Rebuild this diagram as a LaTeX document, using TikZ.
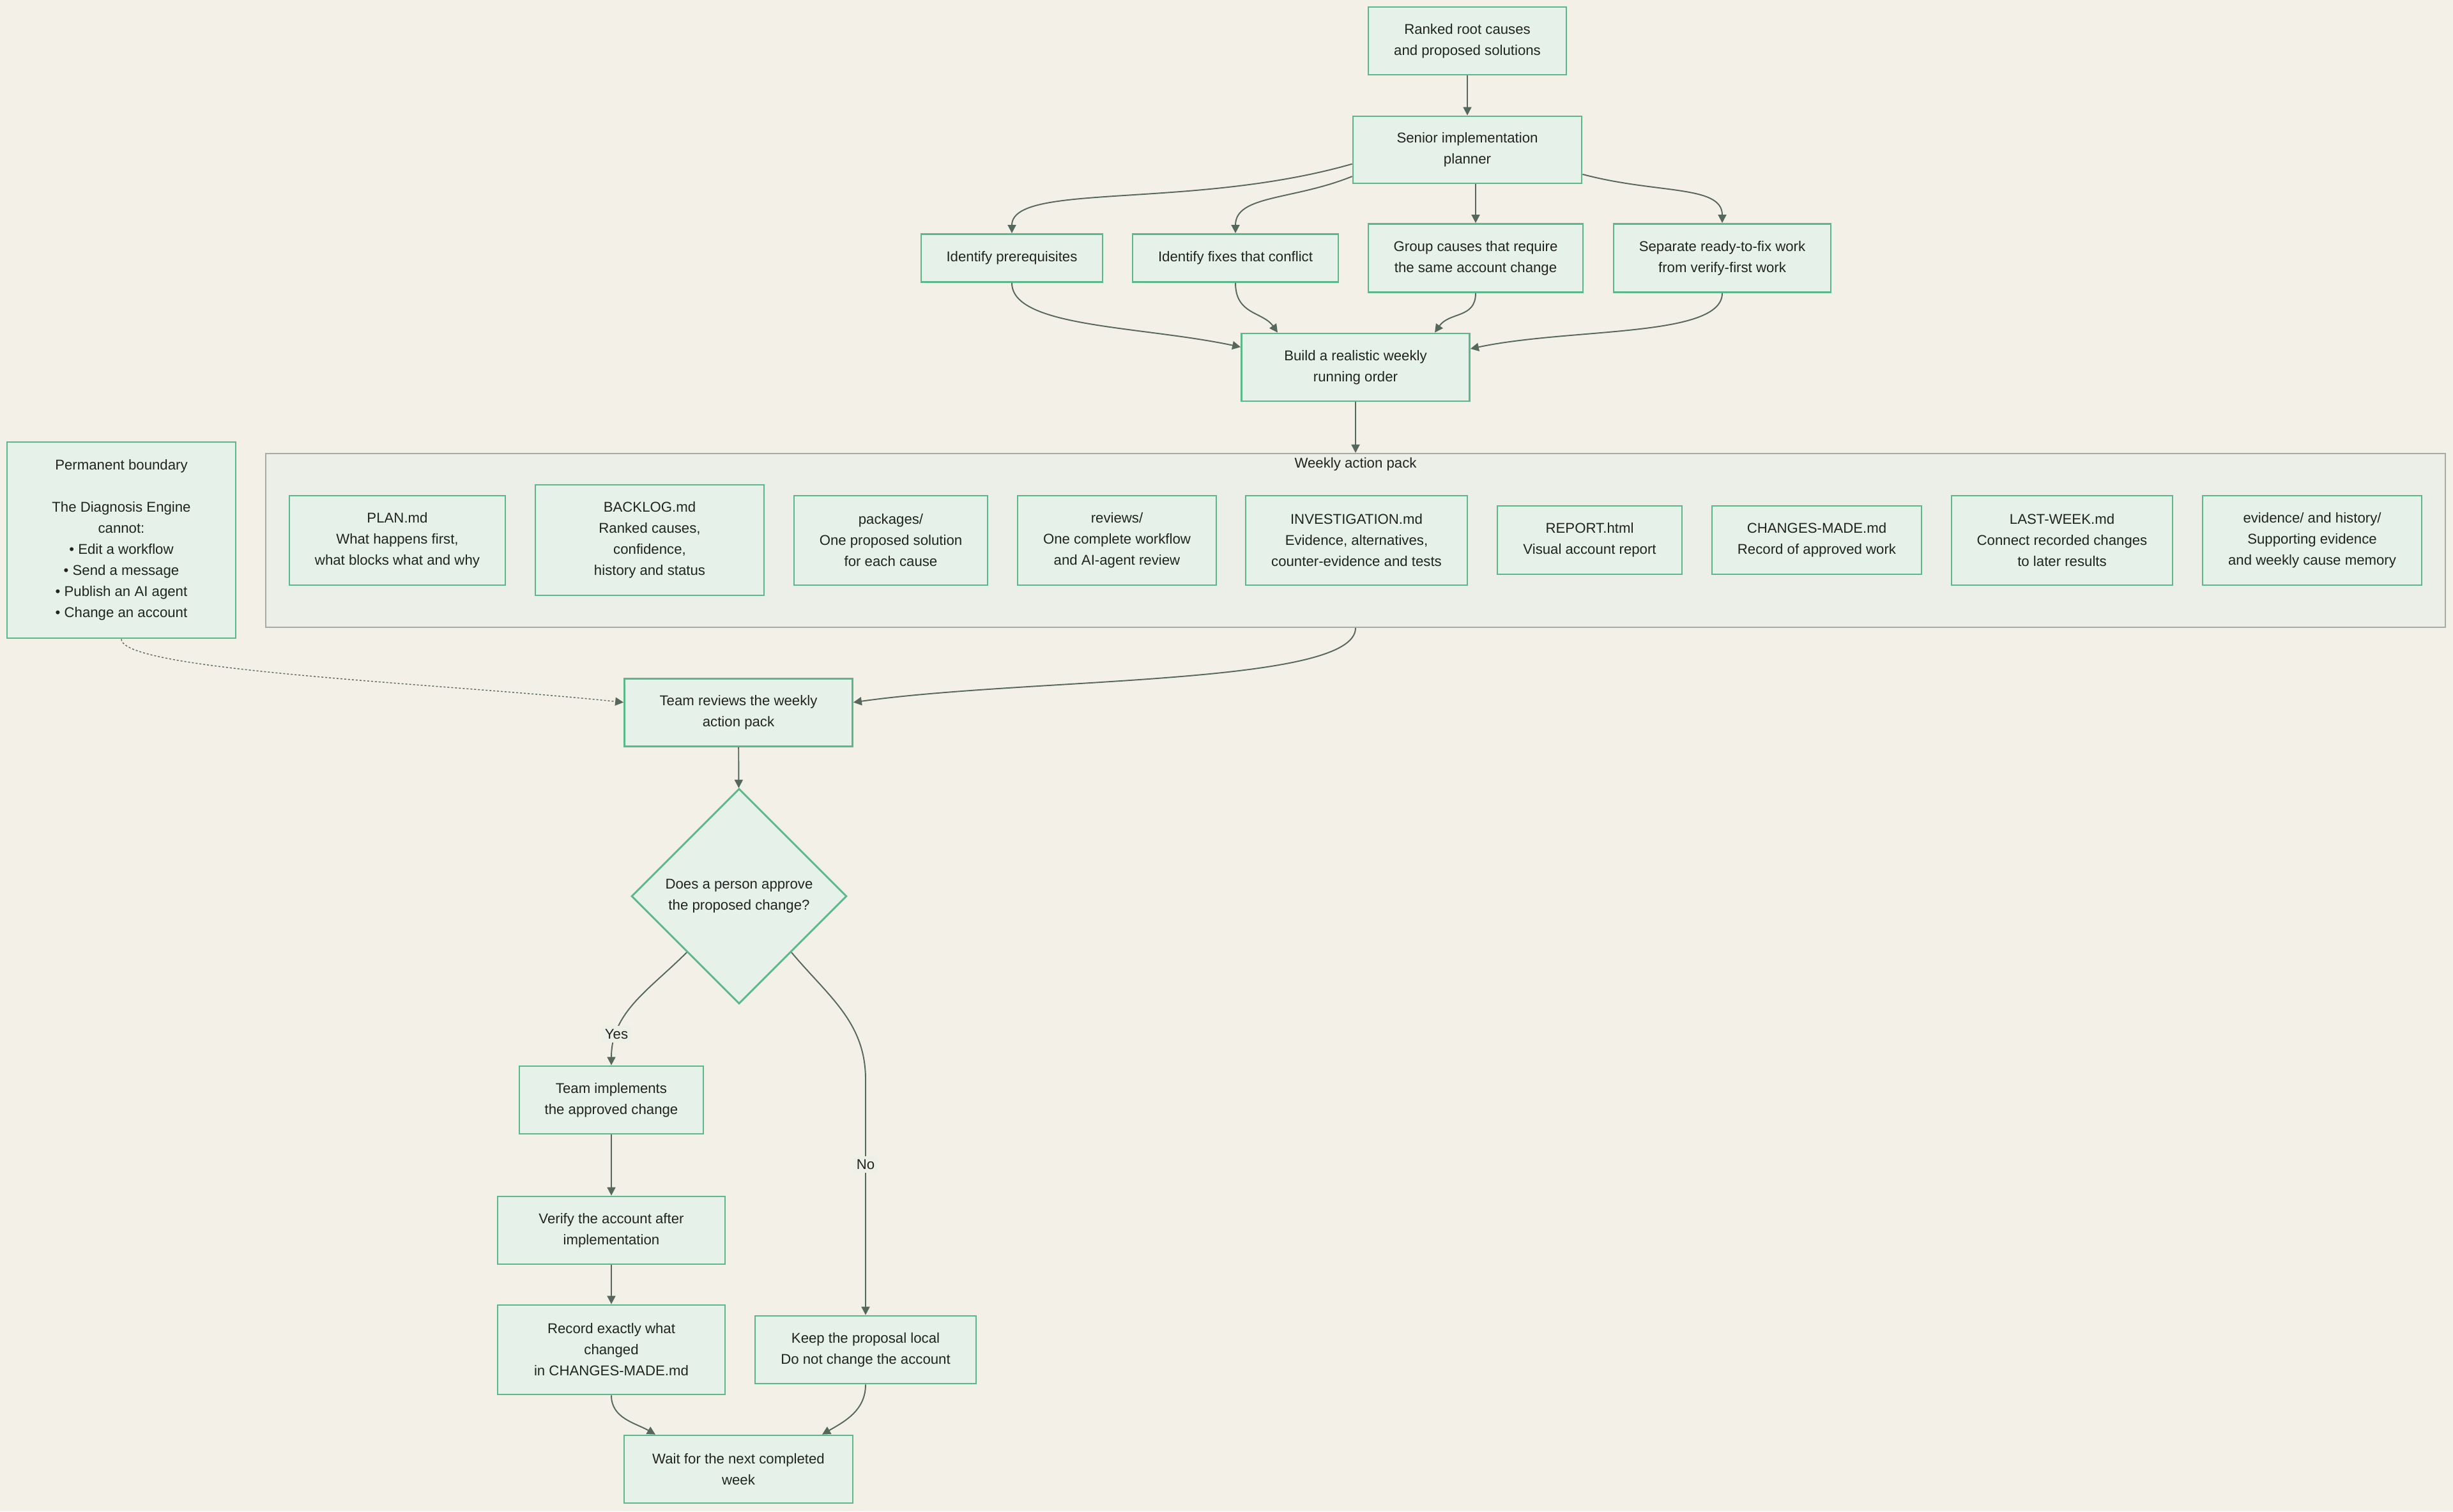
\documentclass[tikz,border=0pt]{standalone}
\usepackage{fontspec}
\setmainfont{Liberation Sans}
\usepackage{xcolor}
\usepackage{tikz}
\usetikzlibrary{arrows.meta,shapes.geometric}

\definecolor{bgcol}{HTML}{F3F0E8}
\definecolor{boxfill}{HTML}{E6F2E9}
\definecolor{boxline}{HTML}{5CB88B}
\definecolor{packfill}{HTML}{ECEFE7}
\definecolor{packline}{HTML}{A8ABA5}
\definecolor{edgecol}{HTML}{56675D}
\definecolor{txtcol}{HTML}{222222}
\definecolor{lblcol}{HTML}{EDF0E7}

\begin{document}
\begin{tikzpicture}[
	font=\fontsize{6.32}{9.39}\selectfont, text=txtcol,
	>={Triangle[length=0.13cm,width=0.13cm]},
	box/.style={fill=boxfill, draw=boxline, line width=0.8pt, shape=rectangle, align=center, inner sep=0.08cm},
	pack/.style={fill=packfill, draw=packline, line width=0.6pt, shape=rectangle, inner sep=0},
	decide/.style={fill=boxfill, draw=boxline, line width=0.8pt, shape=diamond, aspect=1, align=center, inner sep=0, minimum width=3.37cm, minimum height=3.37cm},
	flow/.style={draw=edgecol, line width=0.55pt, fill=none},
	lbl/.style={fill=lblcol, inner sep=1.5pt}
]
	\useasboundingbox (0, 0) rectangle (38.4, -23.66);
	\fill [bgcol] (0, 0) rectangle (38.4, -23.66);

	% planning part
	\node [box, minimum width=3.10cm, minimum height=1.06cm] (0) at (22.97, -0.64) {Ranked root causes\\and proposed solutions};
	\node [box, minimum width=3.58cm, minimum height=1.05cm] (1) at (22.97, -2.345) {Senior implementation\\planner};
	\node [box, minimum width=2.84cm, minimum height=0.75cm] (2) at (15.84, -4.04) {Identify prerequisites};
	\node [box, minimum width=3.22cm, minimum height=0.75cm] (3) at (19.34, -4.04) {Identify fixes that conflict};
	\node [box, minimum width=3.36cm, minimum height=1.07cm] (4) at (23.10, -4.04) {Group causes that require\\the same account change};
	\node [box, minimum width=3.40cm, minimum height=1.07cm] (5) at (26.96, -4.04) {Separate ready-to-fix work\\from verify-first work};
	\node [box, minimum width=3.57cm, minimum height=1.06cm] (6) at (21.22, -5.75) {Build a realistic weekly\\running order};

	% weekly action pack
	\node [pack, minimum width=34.12cm, minimum height=2.72cm] (7) at (21.22, -8.46) {};
	\node (8) at (21.22, -7.27) {Weekly action pack};
	\node [box, minimum width=3.38cm, minimum height=1.40cm] (9) at (6.22, -8.46) {PLAN.md\\What happens first,\\what blocks what and why};
	\node [box, minimum width=3.58cm, minimum height=1.73cm] (10) at (10.17, -8.455) {BACKLOG.md\\Ranked causes,\\confidence,\\history and status};
	\node [box, minimum width=3.03cm, minimum height=1.40cm] (11) at (13.945, -8.46) {packages/\\One proposed solution\\for each cause};
	\node [box, minimum width=3.11cm, minimum height=1.40cm] (12) at (17.485, -8.46) {reviews/\\One complete workflow\\and AI-agent review};
	\node [box, minimum width=3.47cm, minimum height=1.40cm] (13) at (21.235, -8.46) {INVESTIGATION.md\\Evidence, alternatives,\\counter-evidence and tests};
	\node [box, minimum width=2.89cm, minimum height=1.07cm] (14) at (24.885, -8.455) {REPORT.html\\Visual account report};
	\node [box, minimum width=3.28cm, minimum height=1.07cm] (15) at (28.44, -8.455) {CHANGES-MADE.md\\Record of approved work};
	\node [box, minimum width=3.46cm, minimum height=1.40cm] (16) at (32.28, -8.46) {LAST-WEEK.md\\Connect recorded changes\\to later results};
	\node [box, minimum width=3.43cm, minimum height=1.40cm] (17) at (36.195, -8.46) {evidence/ and history/\\Supporting evidence\\and weekly cause memory};

	\node [box, minimum width=3.58cm, minimum height=3.07cm] (18) at (1.90, -8.455) {Permanent boundary\\[9.39pt]The Diagnosis Engine\\cannot:\\• Edit a workflow\\• Send a message\\• Publish an AI agent\\• Change an account};

	% review and decision
	\node [box, minimum width=3.57cm, minimum height=1.06cm] (19) at (11.56, -11.155) {Team reviews the weekly\\action pack};
	\node [decide] (20) at (11.57, -14.03) {Does a person approve\\the proposed change?};
	\node [box, minimum width=2.88cm, minimum height=1.06cm] (21) at (9.57, -17.22) {Team implements\\the approved change};
	\node [box, minimum width=3.56cm, minimum height=1.06cm] (22) at (9.57, -19.26) {Verify the account after\\implementation};
	\node [box, minimum width=3.56cm, minimum height=1.40cm] (23) at (9.57, -21.13) {Record exactly what\\changed\\in CHANGES-MADE.md};
	\node [box, minimum width=3.46cm, minimum height=1.06cm] (24) at (13.55, -21.13) {Keep the proposal local\\Do not change the account};
	\node [box, minimum width=3.58cm, minimum height=1.06cm] (25) at (11.56, -23.00) {Wait for the next completed\\week};
	\coordinate (nobend) at (13.55, -16.9);

	\draw [flow, ->] (0) to (1);
	\draw [flow, ->] (1.187) .. controls +(196:2.6) and +(90:0.8) .. (2.north);
	\draw [flow, ->] (1.193) .. controls +(202:1.0) and +(90:0.6) .. (3.north);
	\draw [flow, ->] (1.south -| 4.north) to (4.north);
	\draw [flow, ->] (1.-12) .. controls +(-15:1.2) and +(90:0.6) .. (5.north);
	\draw [flow, ->] (2.south) .. controls +(-90:0.7) and +(168:1.6) .. (6.170);
	\draw [flow, ->] (3.south) .. controls +(-90:0.5) and +(125:0.4) .. ([xshift=-1.22cm]6.north);
	\draw [flow, ->] (4.south) .. controls +(-90:0.4) and +(55:0.4) .. ([xshift=1.24cm]6.north);
	\draw [flow, ->] (5.south) .. controls +(-90:0.7) and +(12:1.6) .. ([yshift=0.29cm]6.east);
	\draw [flow, ->] (6.south) to (7.north);
	\draw [flow, ->] (7.south) .. controls +(-90:0.9) and +(8:2.8) .. ([yshift=0.16cm]19.east);
	\draw [flow, ->, line width=0.4pt, dash pattern=on 0.03cm off 0.03cm] (18.south) .. controls +(-90:0.5) and +(174:2.8) .. ([yshift=0.16cm]19.west);
	\draw [flow, ->] (19) to (20);
	\draw [flow, ->] (20.227) to[out=-135, in=90] node [lbl, pos=0.78] {Yes} (21.north);
	\draw [flow, ->] (20.313) to[out=-50, in=90] (nobend) -- node [lbl, pos=0.36] {No} (24.north);
	\draw [flow, ->] (21) to (22);
	\draw [flow, ->] (22) to (23);
	\draw [flow, ->] (23.south) to[out=-90, in=150] ([xshift=-1.3cm]25.north);
	\draw [flow, ->] (24.south) to[out=-90, in=30] ([xshift=1.31cm]25.north);
\end{tikzpicture}
\end{document}
